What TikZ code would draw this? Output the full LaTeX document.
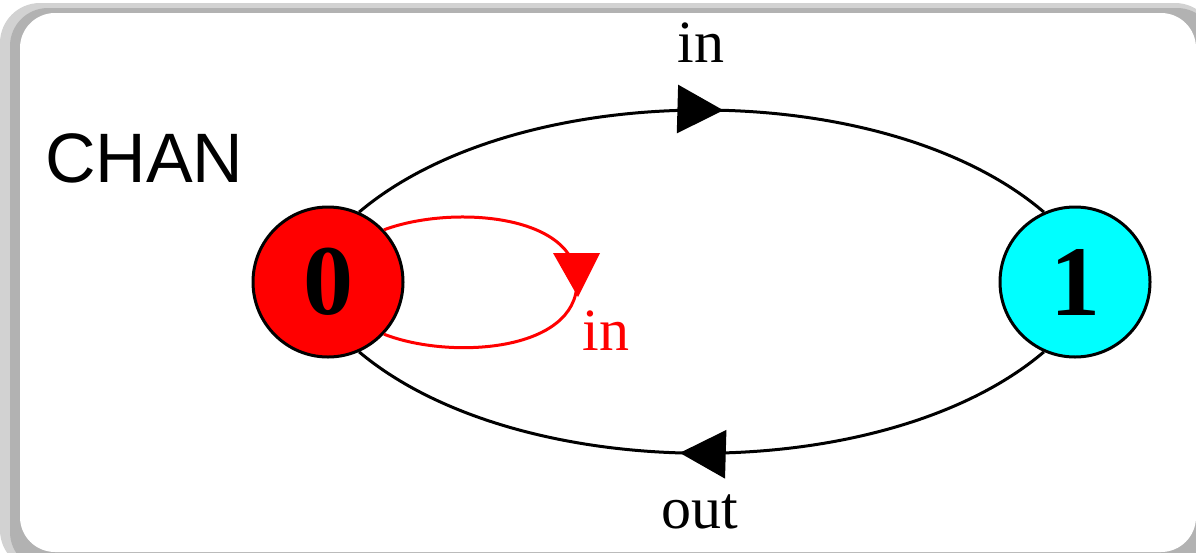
\documentclass[tikz,border=0pt]{standalone}
\usepackage{fontspec}
\setmainfont{Liberation Serif}
\newfontfamily\labsans{Liberation Sans}
\usetikzlibrary{arrows.meta,decorations.markings}
\definecolor{statered}{rgb}{1,0,0}
\definecolor{statecyan}{rgb}{0,1,1}
\begin{document}
\begin{tikzpicture}[x=1pt,y=-1pt,
  state/.style={circle,draw=black,line width=3pt,minimum size=150pt,inner sep=0pt,
    font=\bfseries\fontsize{100}{100}\selectfont},
  edgelab/.style={anchor=base,inner sep=0pt,font=\fontsize{60}{60}\selectfont},
  arc/.style={line width=3pt,postaction={decorate},
    decoration={markings,mark=at position #1 with {\arrow{Triangle[width=48pt,length=46pt]}}}},
]
\useasboundingbox (0,0) rectangle (1196,552);
% panel with shadow
\fill[gray!35, rounded corners=40pt] (0,3) rectangle (1215,570);
\fill[gray!60, rounded corners=38pt] (10,8) rectangle (1215,570);
\fill[white, rounded corners=35pt] (20,13) rectangle (1196,552);
\node[anchor=base west,inner sep=0pt,font=\labsans\fontsize{70}{70}\selectfont] (title) at (45,182) {CHAN};
\node[state,fill=statered] (n0) at (328,282) {0};
\node[state,fill=statecyan] (n1) at (1075,282) {1};
\draw[arc=0.53] (n0.66) .. controls (520,76) and (885,76) .. (n1.114);
\draw[arc=0.53] (n1.-114) .. controls (885,487) and (520,487) .. (n0.-66);
\draw[line width=3pt,statered] (n0.43) .. controls (450,205) and (577,213) .. (577,282)
   .. controls (577,352) and (450,360) .. (n0.-43);
\fill[statered] (553,253) -- (600,253) -- (578,297) -- cycle;
\node[edgelab] (l1) at (701,62) {in};
\node[edgelab] (l2) at (700,528) {out};
\node[edgelab,text=statered] (l3) at (606,350) {in};
\end{tikzpicture}
\end{document}
